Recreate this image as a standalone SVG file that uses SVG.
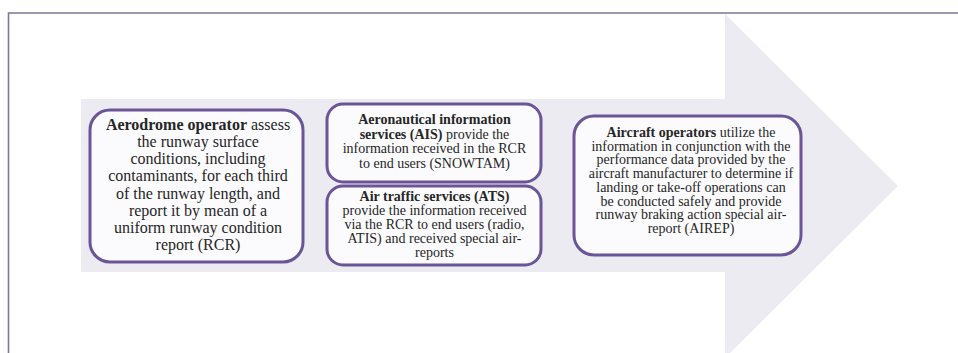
<svg xmlns="http://www.w3.org/2000/svg" width="958" height="353" viewBox="0 0 958 353">
<style>
.box{fill:#fbfbfd;stroke:#6a5597;stroke-width:3}
text{font-family:'Liberation Serif','Tinos','Times New Roman','DejaVu Serif',serif;fill:#262626;text-anchor:middle}
.t16{font-size:16px}
.t14{font-size:14px}
.b{font-weight:bold}
</style>
<rect width="958" height="353" fill="#ffffff"/>
<g id="frame">
<path d="M8.5,353 V13 H958" fill="none" stroke="#7d7799" stroke-width="1.6"/>
</g>
<g id="arrow">
<path d="M81,99 H725 V14 L898,186 L725,358 V272 H81 Z" fill="#ecebf2"/>
</g>
<g id="connectors"></g>
<g id="aerodrome" font-family="Liberation Serif, serif">
<rect class="box" x="90" y="110" width="213" height="152" rx="20"/>
<text class="t16" x="198" y="130"><tspan class="b">Aerodrome operator</tspan> assess</text>
<text class="t16" x="198" y="147.2">the runway surface</text>
<text class="t16" x="198" y="164.3">conditions, including</text>
<text class="t16" x="198" y="181.4">contaminants, for each third</text>
<text class="t16" x="198" y="198.5">of the runway length, and</text>
<text class="t16" x="198" y="215.6">report it by mean of a</text>
<text class="t16" x="198" y="232.7">uniform runway condition</text>
<text class="t16" x="198" y="249.8">report (RCR)</text>
</g>
<g id="ais" font-family="Liberation Serif, serif">
<rect class="box" x="327" y="104" width="214" height="78" rx="16"/>
<text class="t14 b" x="434.5" y="123.5">Aeronautical information</text>
<text class="t14" x="434.5" y="138.5"><tspan class="b">services (AIS)</tspan> provide the</text>
<text class="t14" x="434.5" y="153">information received in the RCR</text>
<text class="t14" x="434.5" y="167.5">to end users (SNOWTAM)</text>
</g>
<g id="ats" font-family="Liberation Serif, serif">
<rect class="box" x="327" y="186" width="214" height="79" rx="16"/>
<text class="t14 b" x="434.5" y="200.5">Air traffic services (ATS)</text>
<text class="t14" x="434.5" y="214.5">provide the information received</text>
<text class="t14" x="434.5" y="228.5">via the RCR to end users (radio,</text>
<text class="t14" x="434.5" y="242.5">ATIS) and received special air-</text>
<text class="t14" x="434.5" y="256.5">reports</text>
</g>
<g id="aircraft" font-family="Liberation Serif, serif">
<rect class="box" x="574" y="116" width="227" height="139" rx="20"/>
<text class="t14" x="691" y="137"><tspan class="b">Aircraft operators</tspan> utilize the</text>
<text class="t14" x="691" y="150.7">information in conjunction with the</text>
<text class="t14" x="691" y="164.4">performance data provided by the</text>
<text class="t14" x="691" y="178.1">aircraft manufacturer to determine if</text>
<text class="t14" x="691" y="191.8">landing or take-off operations can</text>
<text class="t14" x="691" y="205.5">be conducted safely and provide</text>
<text class="t14" x="691" y="219.2">runway braking action special air-</text>
<text class="t14" x="691" y="232.9">report (AIREP)</text>
</g>
</svg>
